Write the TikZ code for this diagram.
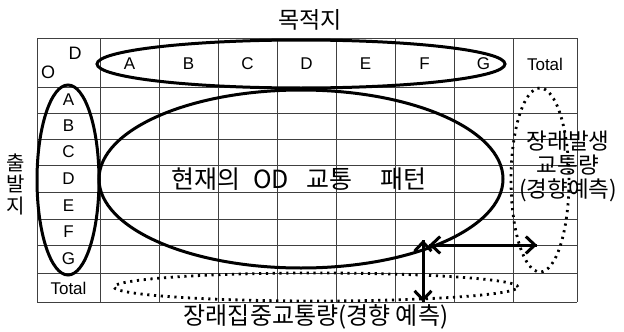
\documentclass[tikz,border=0pt]{standalone}
\usepackage{fontspec}
\setmainfont{Liberation Sans}
\newfontfamily\kr{Noto Sans CJK KR}
\usetikzlibrary{shapes.geometric,arrows.meta}
\begin{document}
\begin{tikzpicture}[x=1pt,y=-1pt,
  gridline/.style={draw=black!75,line width=0.8pt},
  lbl/.style={font=\fontsize{17}{17}\selectfont,inner sep=0pt},
  solidell/.style={ellipse,draw=black,line width=3pt,inner sep=0pt},
  dotell/.style={ellipse,draw=black,line width=2.8pt,dash pattern=on 2.2pt off 4.6pt,inner sep=0pt},
  shaft/.style={draw=black,line width=3pt},
  twohead/.style={draw=black,line width=3pt,arrows={Straight Barb[length=9pt,width=17pt]-Straight Barb[length=9pt,width=17pt]}}
]
\useasboundingbox (0,0) rectangle (624,332);
% grid
\foreach \xx in {37,100,159,218,277,336,395,454,513,577}
  \draw[gridline] (\xx,38) -- (\xx,302);
\foreach \yy in {38,87,113,139,165,192,219,245,273,302}
  \draw[gridline] (37,\yy) -- (577,\yy);
% header labels
\node[lbl,font=\fontsize{18}{18}\selectfont] (hd) at (75,53) {D};
\node[lbl,font=\fontsize{18}{18}\selectfont] (ho) at (48,72) {O};
\foreach \nm/\xx in {A/129.5,B/188.5,C/247.5,D/306.5,E/365.5,F/424.5,G/483.5}
  \node[lbl] (col\nm) at (\xx,64) {\nm};
\node[lbl] (coltot) at (545,64) {Total};
\foreach \nm/\yy in {A/100,B/126,C/152,D/179,E/206,F/232,G/259}
  \node[lbl] (row\nm) at (68.5,\yy) {\nm};
\node[lbl] (rowtot) at (68.5,288) {Total};
% ellipses
\node[solidell,minimum width=408pt,minimum height=48pt] (dest) at (301,64) {};
\node[solidell,minimum width=62pt,minimum height=190pt] (orig) at (68,180) {};
\node[solidell,minimum width=404pt,minimum height=178pt] (cur) at (301,179) {};
\node[dotell,minimum width=58pt,minimum height=184pt] (gen) at (540,180) {};
\node[dotell,minimum width=404pt,minimum height=28pt] (att) at (316,287) {};
% texts
\node[font=\kr\fontsize{23}{23}\selectfont,inner sep=0pt] (title) at (310,20) {목적지};
\node[font=\kr\fontsize{20}{21.5}\selectfont,align=center,inner sep=0pt] (origt) at (16,184) {출\\발\\지};
\node[font=\kr\fontsize{25}{25}\selectfont,anchor=west,inner sep=0pt] (curt) at (171,179) {현재의\hspace{13pt}OD\hspace{18pt}교통\hspace{28pt}패턴};
\node[font=\kr\fontsize{22.5}{24}\selectfont,align=center,inner sep=0pt] (gent) at (568,166) {장래발생\\교통량\\(경향예측)};
\node[font=\kr\fontsize{24}{24}\selectfont,inner sep=0pt] (attt) at (316,317) {장래집중교통량(경향 예측)};
% arrows
\coordinate (vtop) at (423,240);
\coordinate (vbot) at (423,302);
\coordinate (hl) at (429,245);
\coordinate (hr) at (537,245);
\draw[shaft] (vtop) -- (vbot);
\draw[shaft] (hl) -- (hr);
\draw[twohead] (vtop) -- (vbot);
\draw[twohead] (hl) -- (hr);
\end{tikzpicture}
\end{document}
